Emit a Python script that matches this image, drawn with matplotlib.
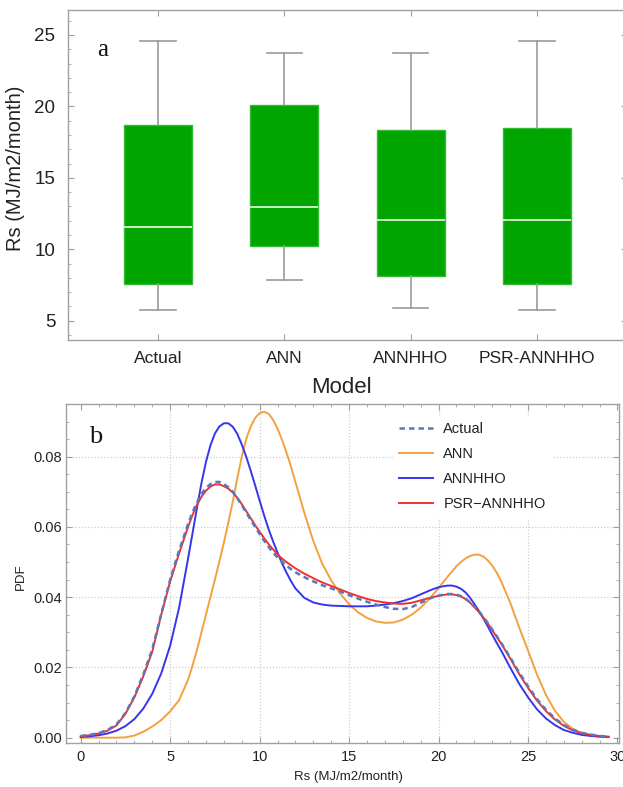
import numpy as np
import matplotlib
import matplotlib.pyplot as plt
from matplotlib.ticker import MultipleLocator, FormatStrFormatter

matplotlib.rcParams['font.family'] = ['Liberation Sans', 'DejaVu Sans']

# ---- panel a: box plot stats ----
models = ["Actual", "ANN", "ANNHHO", "PSR-ANNHHO"]
whis_lo = [5.75, 7.85, 5.90, 5.78]
q1 = [7.58, 10.22, 8.12, 7.60]
median = [11.55, 12.95, 12.05, 12.05]
q3 = [18.72, 20.10, 18.38, 18.52]
whis_hi = [24.58, 23.77, 23.77, 24.58]

# ---- panel b: PDF curves ----
rs = [0, 0.5, 1, 1.5, 2, 2.5, 3, 3.5, 4, 4.5, 5, 5.5,
      6, 6.25, 6.5, 6.75, 7, 7.25, 7.5, 7.75, 8, 8.25, 8.5, 8.75,
      9, 9.25, 9.5, 9.75, 10, 10.25, 10.5, 10.75, 11, 11.25, 11.5, 11.75,
      12, 12.5, 13, 13.5, 14, 14.5, 15, 15.5, 16, 16.5, 17, 17.5, 18, 18.5, 19,
      19.5, 19.75, 20, 20.25, 20.5, 20.75, 21, 21.25, 21.5, 21.75, 22, 22.25,
      22.5, 22.75, 23, 23.25,
      23.5, 24, 24.5, 25, 25.5, 26, 26.5, 27, 27.5, 28, 28.5, 29, 29.5]
pdf_actual = [0.0005, 0.0008, 0.0013, 0.0022, 0.0038, 0.0070, 0.0118, 0.0180, 0.0252, 0.0352, 0.0450, 0.0533,
              0.0608, 0.0642, 0.0670, 0.0694, 0.0711, 0.0722, 0.0728, 0.0728, 0.0722, 0.0713, 0.0700, 0.0682,
              0.0662, 0.0641, 0.0620, 0.0600, 0.0580, 0.0561, 0.0543, 0.0527, 0.0513, 0.0501, 0.0490, 0.0480,
              0.0471, 0.0457, 0.0445, 0.0434, 0.0425, 0.0416, 0.0406, 0.0396, 0.0387, 0.0379, 0.0372, 0.0367,
              0.0366, 0.0372, 0.0384,
              0.0396, 0.0401, 0.0404, 0.0407, 0.0409, 0.0409, 0.0407, 0.0403, 0.0396, 0.0386, 0.0374, 0.0360,
              0.0344, 0.0327, 0.0308, 0.0289,
              0.0270, 0.0229, 0.0186, 0.0146, 0.0110, 0.0080, 0.0055, 0.0036, 0.0023, 0.0014, 0.0009, 0.0005, 0.0003]
pdf_ann = [0.0, 0.0, 0.0, 0.0, 0.0, 0.0001, 0.0006, 0.0017, 0.0032, 0.0050, 0.0075, 0.0107,
           0.0165, 0.0205, 0.0250, 0.0300, 0.0350, 0.0400, 0.0450, 0.0502, 0.0555, 0.0612, 0.0672, 0.0738,
           0.0800, 0.0850, 0.0886, 0.0910, 0.0924, 0.0928, 0.0922, 0.0905, 0.0880, 0.0848, 0.0812, 0.0772,
           0.0728, 0.0640, 0.0560, 0.0495, 0.0448, 0.0410, 0.0380, 0.0357, 0.0341, 0.0331, 0.0327, 0.0328,
           0.0336, 0.0350, 0.0370,
           0.0396, 0.0411, 0.0426, 0.0442, 0.0458, 0.0473, 0.0488, 0.0500, 0.0510, 0.0517, 0.0521, 0.0521,
           0.0516, 0.0505, 0.0490, 0.0470,
           0.0445, 0.0385, 0.0315, 0.0248, 0.0180, 0.0122, 0.0077, 0.0045, 0.0025, 0.0013, 0.0007, 0.0003, 0.0002]
pdf_annhho = [0.0002, 0.0004, 0.0007, 0.0012, 0.0020, 0.0033, 0.0053, 0.0083, 0.0125, 0.0183, 0.0262, 0.0370,
              0.0510, 0.0582, 0.0655, 0.0725, 0.0785, 0.0832, 0.0866, 0.0886, 0.0895, 0.0895, 0.0885, 0.0865,
              0.0835, 0.0800, 0.0760, 0.0718, 0.0675, 0.0633, 0.0594, 0.0559, 0.0527, 0.0497, 0.0470, 0.0446,
              0.0425, 0.0398, 0.0385, 0.0379, 0.0376, 0.0375, 0.0374, 0.0374, 0.0374, 0.0376, 0.0379, 0.0383,
              0.0389, 0.0397, 0.0408,
              0.0419, 0.0424, 0.0428, 0.0431, 0.0433, 0.0433, 0.0430, 0.0424, 0.0414, 0.0399, 0.0381, 0.0361,
              0.0340, 0.0317, 0.0293, 0.0270,
              0.0248, 0.0200, 0.0154, 0.0115, 0.0081, 0.0055, 0.0036, 0.0022, 0.0014, 0.0008, 0.0005, 0.0003, 0.0002]
pdf_psr = [0.0004, 0.0007, 0.0012, 0.0020, 0.0035, 0.0068, 0.0115, 0.0175, 0.0245, 0.0350, 0.0445, 0.0525,
           0.0600, 0.0634, 0.0663, 0.0686, 0.0703, 0.0715, 0.0721, 0.0721, 0.0716, 0.0709, 0.0698, 0.0683,
           0.0665, 0.0645, 0.0625, 0.0605, 0.0586, 0.0568, 0.0551, 0.0536, 0.0522, 0.0510, 0.0500, 0.0491,
           0.0482, 0.0467, 0.0454, 0.0442, 0.0432, 0.0422, 0.0412, 0.0403, 0.0395, 0.0389, 0.0385, 0.0382,
           0.0381, 0.0384, 0.0391,
           0.0398, 0.0401, 0.0404, 0.0406, 0.0408, 0.0408, 0.0406, 0.0402, 0.0395, 0.0385, 0.0372, 0.0358,
           0.0342, 0.0325, 0.0306, 0.0287,
           0.0268, 0.0226, 0.0182, 0.0142, 0.0106, 0.0076, 0.0052, 0.0034, 0.0021, 0.0013, 0.0008, 0.0005, 0.0003]

pdf_xticks = [0, 5, 10, 15, 20, 25, 30]
pdf_yticks = [0.00, 0.02, 0.04, 0.06, 0.08]
grid_x = [5, 10, 15, 20, 25]
grid_y = [0.02, 0.04, 0.06, 0.08]

frame_col = "#a0a0a0"
text_col = "#222222"

fig = plt.figure(figsize=(6.23, 7.87), dpi=100)
ax_box = fig.add_axes([0.1091, 0.568, 0.8973, 0.4193])
ax_pdf = fig.add_axes([0.106, 0.0555, 0.888, 0.4312])

for ax in (ax_box, ax_pdf):
    for s in ax.spines.values():
        s.set_color(frame_col)
        s.set_linewidth(1.0)
    ax.tick_params(which="both", direction="in", color=frame_col,
                   top=True, right=True, labelcolor=text_col)

# ---- panel a ----
positions = np.arange(1, len(models) + 1)
stats = [dict(label=m, whislo=lo, q1=a, med=md, q3=b, whishi=hi, fliers=[])
         for m, lo, a, md, b, hi in zip(models, whis_lo, q1, median, q3, whis_hi)]
ax_box.bxp(stats, positions=positions, widths=0.54, capwidths=0.28,
           patch_artist=True, showfliers=False,
           boxprops=dict(facecolor="#00a500", edgecolor="#33bb33", linewidth=1.0),
           medianprops=dict(color="#d8f5d8", linewidth=1.3),
           whiskerprops=dict(color="#9a9a9a", linewidth=1.2),
           capprops=dict(color="#9a9a9a", linewidth=1.2))
ax_box.set_xlim(0.287, 4.713)
ax_box.set_ylim(3.65, 26.75)
ax_box.set_xticks(positions, models, fontsize=12.5)
ax_box.set_yticks([5, 10, 15, 20, 25])
ax_box.yaxis.set_minor_locator(MultipleLocator(1))
ax_box.tick_params(axis="y", labelsize=13.5, pad=9)
ax_box.tick_params(axis="x", pad=8)
ax_box.tick_params(which="major", length=4)
ax_box.tick_params(which="minor", length=2.5)
ax_box.set_ylabel("Rs (MJ/m2/month)", fontsize=14.5, color=text_col)
ax_box.yaxis.set_label_coords(-0.077, 0.52)
ax_box.set_xlabel("Model", fontsize=16, color=text_col)
ax_box.xaxis.set_label_coords(0.49, -0.112)
ax_box.text(0.0626, 0.879, "a", transform=ax_box.transAxes, fontsize=18,
            family="Liberation Serif", ha="center", va="center", color="#111111")

# ---- panel b ----
for gx in grid_x:
    ax_pdf.axvline(gx, color="#cfcfcf", lw=0.9, ls=(0, (1, 1.5)), zorder=0)
for gy in grid_y:
    ax_pdf.axhline(gy, color="#cfcfcf", lw=0.9, ls=(0, (1, 1.5)), zorder=0)

l_ann, = ax_pdf.plot(rs, pdf_ann, color="#f5a040", lw=1.4, zorder=2, label="ANN")
l_hho, = ax_pdf.plot(rs, pdf_annhho, color="#3535f0", lw=1.4, zorder=3, label="ANNHHO")
l_psr, = ax_pdf.plot(rs, pdf_psr, color="#f03030", lw=1.4, zorder=4, label="PSR\u2212ANNHHO")
l_act, = ax_pdf.plot(rs, pdf_actual, color="#5878b8", lw=1.8, ls=(0, (2.2, 1.6)),
                     zorder=5, label="Actual")

ax_pdf.set_xlim(-0.82, 30.1)
ax_pdf.set_ylim(-0.0016, 0.095)
ax_pdf.set_xticks(pdf_xticks)
ax_pdf.set_yticks(pdf_yticks)
ax_pdf.xaxis.set_minor_locator(MultipleLocator(1))
ax_pdf.yaxis.set_minor_locator(MultipleLocator(0.005))
ax_pdf.yaxis.set_major_formatter(FormatStrFormatter("%.2f"))
ax_pdf.tick_params(labelsize=10.5)
ax_pdf.tick_params(axis="y", pad=3)
ax_pdf.tick_params(axis="x", pad=5)
ax_pdf.tick_params(which="major", length=4)
ax_pdf.tick_params(which="minor", length=2.2)
ax_pdf.set_ylabel("PDF", fontsize=9.5, color=text_col)
ax_pdf.yaxis.set_label_coords(-0.0705, 0.49)
ax_pdf.set_xlabel("Rs (MJ/m2/month)", fontsize=9.5, color=text_col)
ax_pdf.xaxis.set_label_coords(0.51, -0.082)
ax_pdf.text(0.054, 0.903, "b", transform=ax_pdf.transAxes, fontsize=19,
            family="Liberation Serif", ha="center", va="center", color="#111111",
            bbox=dict(facecolor="white", edgecolor="none", pad=6))

leg = ax_pdf.legend(handles=[l_act, l_ann, l_hho, l_psr], loc="upper left",
                    bbox_to_anchor=(0.591, 0.965), fontsize=10.5, frameon=True,
                    fancybox=False, edgecolor="white", facecolor="white", framealpha=1,
                    handlelength=2.35, handletextpad=0.7, labelspacing=0.76,
                    borderpad=0.4, borderaxespad=0)
for t in leg.get_texts():
    t.set_color(text_col)
leg.set_zorder(6)

fig.savefig("out.png", dpi=100)
plt.close(fig)
